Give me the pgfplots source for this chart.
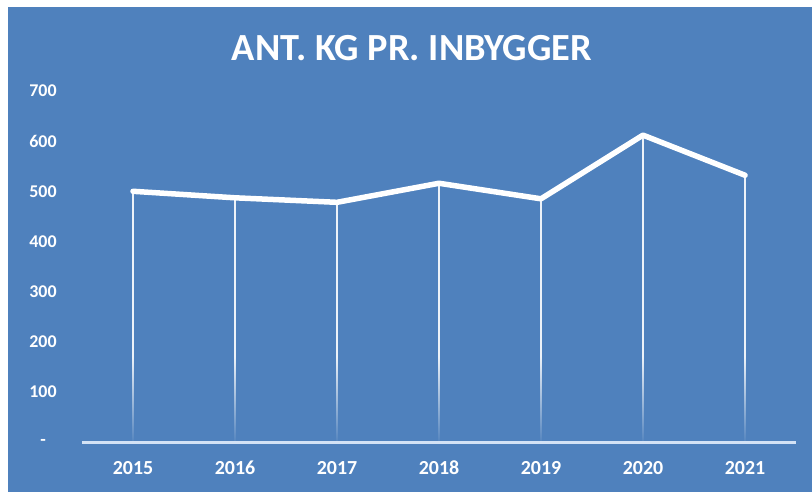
\documentclass[border=0pt]{standalone}
\usepackage{pgfplots}
\pgfplotsset{compat=1.18}
\usepackage{fontspec}
\setmainfont{Carlito}
\usetikzlibrary{fadings}
\definecolor{bg}{HTML}{4F81BD}
\definecolor{axl}{HTML}{D3E2F5}
\tikzfading[name=fadeup, bottom color=transparent!5, top color=transparent!100]
\begin{document}
\begin{tikzpicture}
\path[use as bounding box] (-82bp,-50bp) rectangle (730bp,442bp);
\fill[white] (-82bp,-50bp) rectangle (730bp,442bp);
\fill[bg] (-74bp,-50bp) rectangle (730bp,435bp);
\begin{axis}[
  at={(0,0)}, anchor=south west,
  scale only axis, width=714bp, height=351bp,
  xmin=-0.5, xmax=6.5, ymin=0, ymax=700,
  clip=false,
  axis line style={draw=none},
  major tick length=0pt,
  xtick={0,1,2,3,4,5,6},
  xticklabels={2015,2016,2017,2018,2019,2020,2021},
  ytick={0,100,200,300,400,500,600,700},
  yticklabels={-,100,200,300,400,500,600,700},
  xticklabel style={anchor=center, yshift=-26bp, text=white, font=\bfseries\fontsize{20}{20}\selectfont},
  yticklabel style={anchor=center, xshift=-39bp, text=white, font=\bfseries\fontsize{18}{18}\selectfont},
]
\addplot[ycomb, white, opacity=0.9, line width=1.4bp, mark=none] coordinates {
 (0,500) (1,487) (2,478) (3,516) (4,485) (5,612) (6,532)};
\fill[bg, path fading=fadeup] (axis cs:-0.5,2) rectangle (axis cs:6.5,170);
\addplot[axl, line width=3.5bp, mark=none] coordinates {(-0.5,-1) (6.5,-1)};
\addplot[white, line width=5.5bp, mark=none, line join=round, line cap=round] coordinates {
 (0,500) (1,487) (2,478) (3,516) (4,485) (5,612) (6,532)};
\end{axis}
\node[white, font=\bfseries\fontsize{38.5}{38.5}\selectfont] at (330bp,394bp) {ANT. KG PR. INBYGGER};
\end{tikzpicture}
\end{document}
